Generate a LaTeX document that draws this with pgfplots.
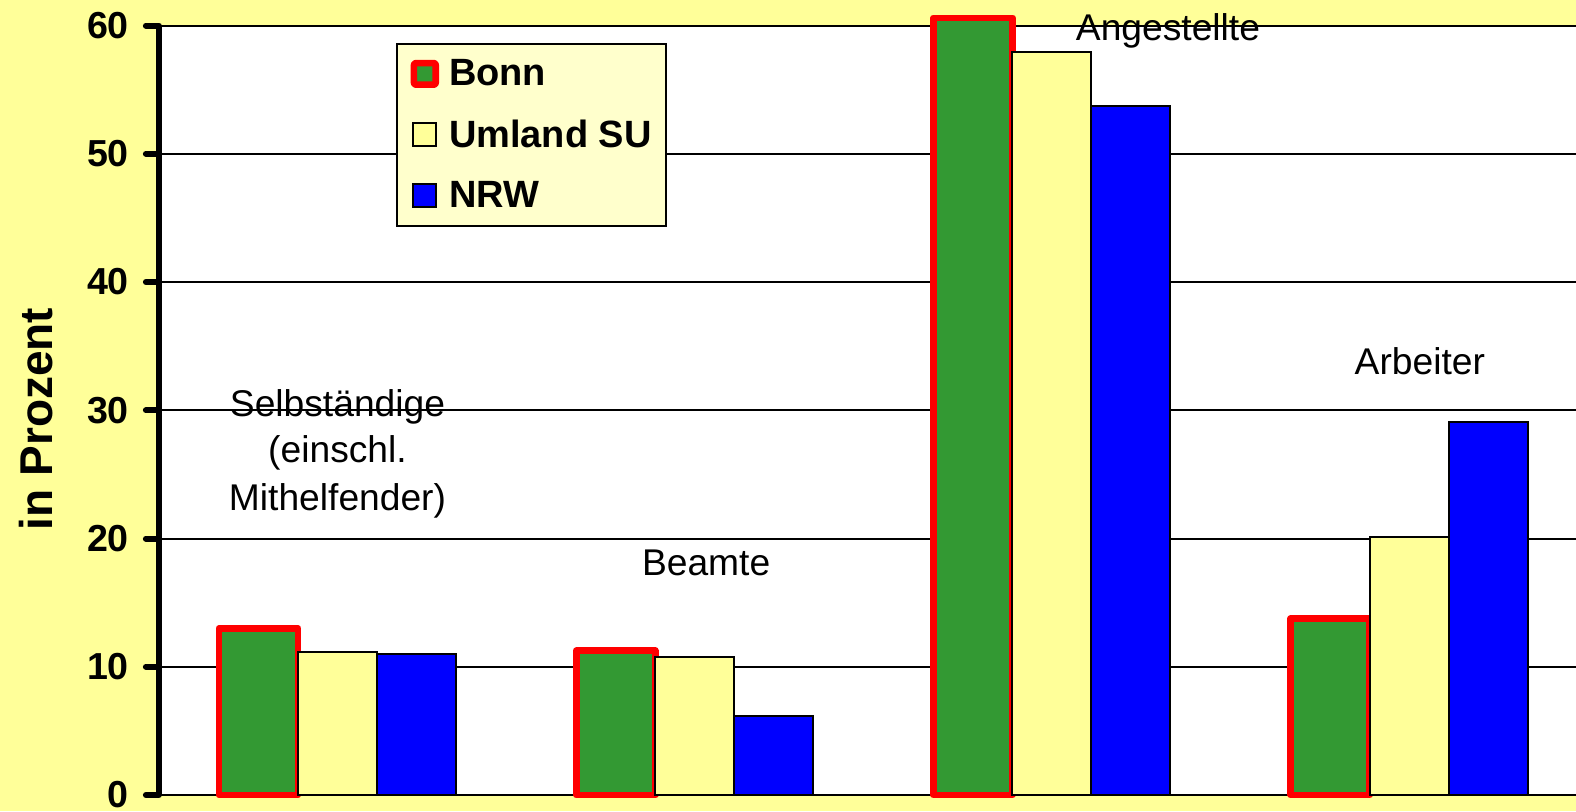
\documentclass[border=0pt]{standalone}
\usepackage{pgfplots}
\pgfplotsset{compat=1.18}
\usepackage{fontspec}
\setmainfont{Liberation Sans}
\definecolor{bg}{HTML}{FFFF99}
\definecolor{bonngreen}{HTML}{339933}
\definecolor{legbg}{HTML}{FFFFCC}
\definecolor{nrwblue}{HTML}{0000FF}
\newcommand{\lbl}{\fontsize{18.6}{22}\selectfont}
\begin{document}
\begin{tikzpicture}
\fill[bg] (0,0) rectangle (788pt,405.5pt);
\begin{axis}[
  at={(79.45pt,8pt)}, anchor=south west,
  scale only axis, width=714.4pt, height=384.75pt,
  xmin=-0.5, xmax=3.5, ymin=0, ymax=60,
  ybar=0pt, bar width=39.5pt,
  ytick={0,10,...,60}, xtick=\empty,
  ymajorgrids, grid style={black, line width=1pt},
  axis background/.style={fill=white},
  axis lines*=left,
  x axis line style={line width=1.1pt},
  y axis line style={line width=3.3pt},
  tick align=outside, major tick length=6.5pt,
  ytick style={black, line width=3pt, line cap=round},
  ytick pos=left,
  yticklabel style={font=\fontsize{18.8}{20}\selectfont\bfseries, xshift=-5pt},
  /pgf/number format/assume math mode=true,
  ylabel={in Prozent},
  ylabel style={font=\fontsize{23}{26}\selectfont\bfseries, at={(axis description cs:-0.0857,0.4886)}, anchor=center},
  clip=false,
  legend style={at={(axis description cs:0.1657,0.9769)}, anchor=north west,
    draw=black, line width=1pt, fill=legbg,
    font=\fontsize{19}{22}\selectfont\bfseries,
    inner xsep=7pt, inner ysep=7.5pt, row sep=15.6pt,
    nodes={inner sep=0pt},
    /tikz/every odd column/.append style={column sep=5pt}},
  legend cell align=left,
]
\addplot[fill=bonngreen, draw=red, line width=3.3pt, line join=round,
  legend image code/.code={\draw[fill=bonngreen, draw=red, line width=3.3pt, rounded corners=1pt] (0.3pt,-5.4pt) rectangle (11.2pt,5.4pt);}]
  coordinates {(0,13.0) (1,11.25) (2,60.6) (3,13.75)};
\addplot[fill=bg, draw=black, line width=1pt,
  legend image code/.code={\draw[fill=bg, draw=black, line width=1pt] (0pt,-5.75pt) rectangle (11.5pt,5.75pt);}]
  coordinates {(0,11.15) (1,10.75) (2,57.9) (3,20.15)};
\addplot[fill=nrwblue, draw=black, line width=1pt,
  legend image code/.code={\draw[fill=nrwblue, draw=black, line width=1pt] (0pt,-5.75pt) rectangle (11.5pt,5.75pt);}]
  coordinates {(0,11.0) (1,6.15) (2,53.7) (3,29.05)};
\legend{Bonn, Umland SU, NRW}
\node[font=\lbl, anchor=base] at (axis cs:0,29.5) {Selbständige};
\node[font=\lbl, anchor=base] at (axis cs:0,25.89) {(einschl.};
\node[font=\lbl, anchor=base] at (axis cs:0,22.22) {Mithelfender)};
\node[font=\lbl, anchor=base] at (axis cs:1.032,17.15) {Beamte};
\node[font=\lbl, anchor=base] at (axis cs:2.325,58.87) {Angestellte};
\node[font=\lbl, anchor=base] at (axis cs:3.03,32.8) {Arbeiter};
\end{axis}
\pgfresetboundingbox
\useasboundingbox (0,0) rectangle (788pt,405.5pt);
\end{tikzpicture}
\end{document}
